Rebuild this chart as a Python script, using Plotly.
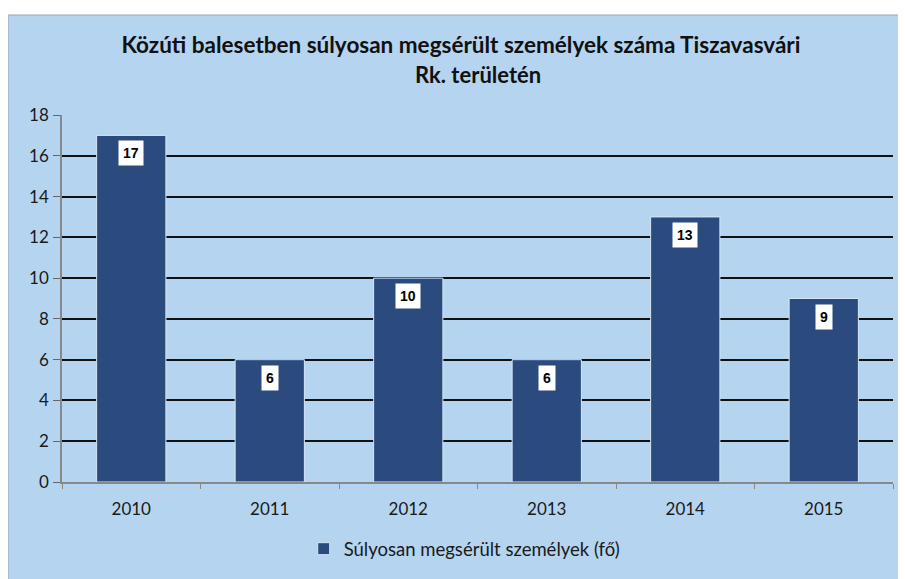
import plotly.graph_objects as go

years = ["2010", "2011", "2012", "2013", "2014", "2015"]
values = [17, 6, 10, 6, 13, 9]
series_name = "Súlyosan megsérült személyek (fő)"
title_line1 = "Közúti balesetben súlyosan megsérült személyek száma Tiszavasvári"
title_line2 = "Rk. területén"

bar_color = "#2b4a7e"
bg_color = "#b4d4ef"
font_family = "Lato, 'Open Sans', sans-serif"

fig = go.Figure()
fig.add_trace(go.Bar(
    x=years, y=values, name=series_name,
    marker=dict(color=bar_color, line=dict(color="#d6e6f5", width=1)),
    width=0.5, showlegend=True,
))

for i, v in enumerate(values):
    fig.add_annotation(
        x=i, y=v, xref="x", yref="y", text=f"<b>{v}</b>",
        showarrow=False, yshift=-18, bgcolor="white",
        font=dict(family="Liberation Sans, Arial, sans-serif", size=14, color="black"),
        borderpad=4,
    )

fig.add_annotation(x=0.5, y=1.109, xref="paper", yref="paper", text=f"<b>{title_line2}</b>",
                   showarrow=False, xanchor="center", yanchor="middle",
                   font=dict(size=22, color="#111111"))

fig.add_shape(type="rect", xref="paper", yref="paper",
              x0=-0.065, x1=1.025, y0=-0.286, y1=1.2725,
              fillcolor=bg_color, line=dict(color="#9aa7b3", width=1), layer="below")

fig.update_layout(
    width=906, height=579,
    margin=dict(l=54, r=21, t=107, b=105, autoexpand=False),
    paper_bgcolor="white", plot_bgcolor="rgba(0,0,0,0)",
    font=dict(family=font_family, size=17, color="#1a1a1a"),
    title=dict(text=f"<b>{title_line1}</b>", x=0.5, xanchor="center", y=0.936, yanchor="middle",
               font=dict(size=22.5, color="#111111")),
    showlegend=True,
    legend=dict(orientation="h", x=0.484, xanchor="center", y=-0.183, yanchor="middle",
                font=dict(size=18.5), bgcolor="rgba(0,0,0,0)"),
    bargap=0.5,
)
fig.update_xaxes(type="category", range=[-0.5, 5.5], showline=True, linecolor="#888888",
                 linewidth=1.5, ticks="outside", tickson="boundaries", ticklen=5,
                 tickcolor="#888888", showgrid=False, ticklabelstandoff=11,
                 automargin=False, tickangle=0)
fig.update_yaxes(range=[0, 18], dtick=2, showgrid=True, gridcolor="#111111", gridwidth=2,
                 showline=True, linecolor="#888888", linewidth=1.5, ticks="outside",
                 ticklen=7, tickcolor="#666666", zeroline=False, ticklabelstandoff=1,
                 automargin=False)

fig.write_html("out.html")
